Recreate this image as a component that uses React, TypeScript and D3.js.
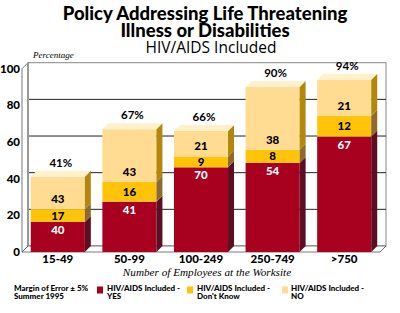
import React from "react";
import * as d3 from "d3";

const categories = ["15-49", "50-99", "100-249", "250-749", ">750"];
const totals = [41, 67, 66, 90, 94];
const yesShare = [40, 41, 70, 54, 67];
const dontKnowShare = [17, 16, 9, 8, 12];
const noShare = [43, 43, 21, 38, 21];
const yTicks = [0, 20, 40, 60, 80, 100];

const W = 400;
const H = 313;
const DX = 6;
const DY = -6;

const COLORS = {
  yes: { front: "#A8001F", side: "#5C0E22", top: "#C0334A" },
  dk: { front: "#FFC40A", side: "#8E6B2C", top: "#FFD85A" },
  no: { front: "#FFDC92", side: "#B3870E", top: "#FFF1CC" },
};

const BOLD = "Lato, 'Open Sans', sans-serif";
const SERIF = "'Liberation Serif', 'DejaVu Serif', serif";

export default function App() {
  const x = d3
    .scaleBand<string>()
    .domain(categories)
    .range([22, 380])
    .paddingInner(0.245)
    .paddingOuter(0.1225);
  const y = d3.scaleLinear().domain([0, 100]).range([252, 68.7]);

  const x0 = 22;
  const x1 = 380;
  const y0 = y(0);
  const y100 = y(100);

  const bars = categories.map((c, i) => {
    const t = totals[i];
    const segs = [
      { key: "yes", share: yesShare[i] },
      { key: "dk", share: dontKnowShare[i] },
      { key: "no", share: noShare[i] },
    ];
    let acc = 0;
    const out = segs.map((s) => {
      const v0 = acc;
      const v1 = acc + (t * s.share) / 100;
      acc = v1;
      return { ...s, v0, v1 };
    });
    return { c, t, segs: out };
  });

  const bw = x.bandwidth();

  return (
    <svg width={W} height={H} style={{ display: "block", position: "absolute", left: 0, top: 0 }}>
      <rect width={W} height={H} fill="#fff" />
      {/* Title */}
      <text x={205} y={19.5} textAnchor="middle" fontFamily={BOLD} fontWeight={900} fontSize={18.5} fill="#000">
        Policy Addressing Life Threatening
      </text>
      <text x={205} y={37} textAnchor="middle" fontFamily={BOLD} fontWeight={900} fontSize={18.5} fill="#000">
        Illness or Disabilities
      </text>
      <text x={211} y={53} textAnchor="middle" fontFamily="'Open Sans', sans-serif" fontSize={15.5} fill="#000">
        HIV/AIDS Included
      </text>
      <text x={33} y={58} fontFamily={SERIF} fontStyle="italic" fontSize={9} fill="#000">
        Percentage
      </text>

      {/* back wall */}
      <rect x={x0 + DX} y={y100 + DY} width={x1 - x0} height={y0 - y100} fill="#fff" stroke="#888" strokeWidth={1} />
      {yTicks
        .filter((v) => v > 0 && v < 100)
        .map((v) => (
          <line key={v} x1={x0 + DX} x2={x1 + DX} y1={y(v) + DY} y2={y(v) + DY} stroke="#222" strokeWidth={1} />
        ))}
      {/* left wall */}
      <polygon
        points={`${x0},${y100} ${x0 + DX},${y100 + DY} ${x0 + DX},${y0 + DY} ${x0},${y0}`}
        fill="#fff"
        stroke="#555"
        strokeWidth={0.8}
      />
      <line x1={x0 + DX} x2={x0 + DX} y1={y100 + DY} y2={y0 + DY} stroke="#999" strokeWidth={2} />
      {/* floor */}
      <polygon
        points={`${x0},${y0} ${x0 + DX},${y0 + DY} ${x1 + DX},${y0 + DY} ${x1},${y0}`}
        fill="#fff"
        stroke="#555"
        strokeWidth={0.8}
      />

      {/* y tick labels */}
      {yTicks.map((v) => (
        <text
          key={v}
          x={20}
          y={y(v) + 4}
          textAnchor="end"
          fontFamily={BOLD}
          fontWeight={900}
          fontSize={11.5}
          fill="#000"
        >
          {v}
        </text>
      ))}

      {/* bars */}
      {bars.map((b) => {
        const bx = x(b.c)!;
        const n = b.segs.length;
        return (
          <g key={b.c}>
            {b.segs.map((s, j) => {
              const col = (COLORS as any)[s.key];
              const yt = y(s.v1);
              const yb = y(s.v0);
              return (
                <g key={s.key}>
                  <rect x={bx} y={yt} width={bw} height={yb - yt} fill={col.front} />
                  <polygon
                    points={`${bx + bw},${yb} ${bx + bw + DX},${yb + DY} ${bx + bw + DX},${yt + DY} ${bx + bw},${yt}`}
                    fill={col.side}
                  />
                  {j === n - 1 && (
                    <polygon
                      points={`${bx},${yt} ${bx + DX},${yt + DY} ${bx + bw + DX},${yt + DY} ${bx + bw},${yt}`}
                      fill={col.top}
                    />
                  )}
                </g>
              );
            })}
            {/* segment labels */}
            {b.segs.map((s) => {
              let ly: number;
              if (s.key === "yes") ly = y(s.v1) + 12;
              else if (s.key === "dk") ly = (y(s.v0) + y(s.v1)) / 2 + 4;
              else ly = y(s.v0) - 6;
              return (
                <text
                  key={s.key}
                  x={bx + bw / 2}
                  y={ly}
                  textAnchor="middle"
                  fontFamily={BOLD}
                  fontWeight={900}
                  fontSize={11.5}
                  fill={s.key === "yes" ? "#fff" : "#000"}
                >
                  {s.share}
                </text>
              );
            })}
            <text
              x={bx + bw / 2 + 3}
              y={y(b.t) + DY - 4}
              textAnchor="middle"
              fontFamily={BOLD}
              fontWeight={700}
              fontSize={11.5}
              fill="#000"
            >
              {b.t}%
            </text>
            <text
              x={bx + bw / 2}
              y={263}
              textAnchor="middle"
              fontFamily={BOLD}
              fontWeight={900}
              fontSize={11.5}
              fill="#000"
            >
              {b.c}
            </text>
          </g>
        );
      })}

      <text x={207} y={276} textAnchor="middle" fontFamily={SERIF} fontStyle="italic" fontSize={11.2} fill="#000">
        Number of Employees at the Worksite
      </text>

      {/* legend */}
      <g fontFamily={BOLD} fontWeight={900} fontSize={8} fill="#000">
        <text x={14} y={290.5}>Margin of Error ± 5%</text>
        <text x={14} y={299}>Summer 1995</text>
        <rect x={97} y={286.5} width={6} height={7} fill={COLORS.yes.front} />
        <text x={107} y={290.5}>HIV/AIDS Included -</text>
        <text x={107} y={299}>YES</text>
        <rect x={187} y={286.5} width={6} height={7} fill={COLORS.dk.front} />
        <text x={197} y={290.5}>HIV/AIDS Included -</text>
        <text x={197} y={299}>Don't Know</text>
        <rect x={282} y={286.5} width={6} height={7} fill={COLORS.no.front} />
        <text x={291} y={290.5}>HIV/AIDS Included -</text>
        <text x={291} y={299}>NO</text>
      </g>
    </svg>
  );
}
